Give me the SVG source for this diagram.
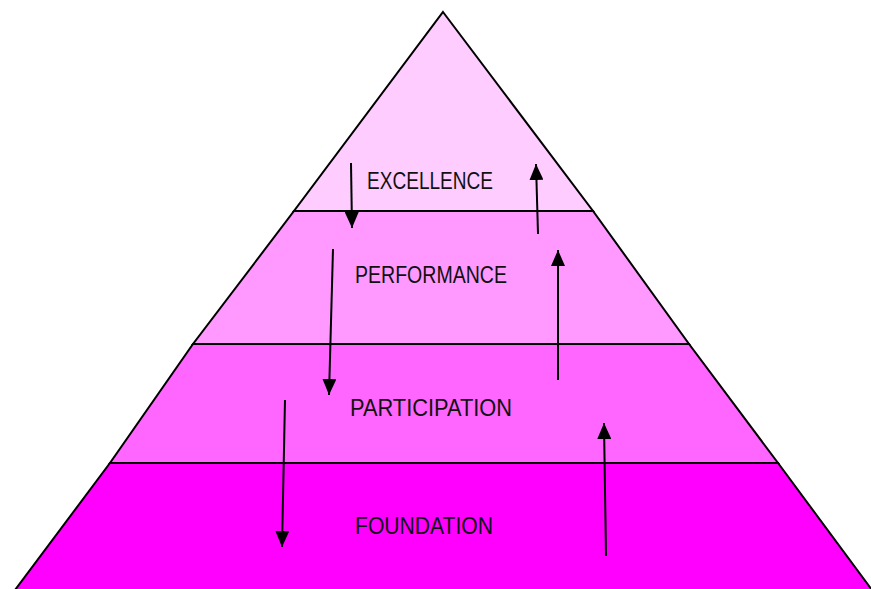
<svg xmlns="http://www.w3.org/2000/svg" width="871" height="589" viewBox="0 0 871 589">
<style>
.band{stroke:#000;stroke-width:2;stroke-linejoin:miter}
.lbl{font-family:"Liberation Sans",Arial,sans-serif;font-size:23px;fill:#111}
.arr{stroke:#000;stroke-width:2;fill:none;marker-end:url(#ah)}
</style>
<defs>
<marker id="ah" viewBox="0 0 16 14" refX="16" refY="7" markerWidth="16" markerHeight="14" markerUnits="userSpaceOnUse" orient="auto">
<path d="M0,0 L16,7 L0,14 Z" fill="#000"/>
</marker>
</defs>
<rect width="871" height="589" fill="#fff"/>
<g id="foundation">
<polygon class="band" fill="#FF00FF" points="110,463 778,463 872,590 15,590"/>
<text class="lbl" x="355" y="534" textLength="138" lengthAdjust="spacingAndGlyphs">FOUNDATION</text>
</g>
<g id="participation">
<polygon class="band" fill="#FF66FF" points="193,344 689,344 778,463 110,463"/>
<text class="lbl" x="350" y="416" textLength="162" lengthAdjust="spacingAndGlyphs">PARTICIPATION</text>
</g>
<g id="performance">
<polygon class="band" fill="#FF99FF" points="294,211 593,211 689,344 193,344"/>
<text class="lbl" x="355" y="283" textLength="152" lengthAdjust="spacingAndGlyphs">PERFORMANCE</text>
</g>
<g id="excellence">
<polygon class="band" fill="#FFCCFF" points="443,12 593,211 294,211"/>
<text class="lbl" x="367" y="189" textLength="126" lengthAdjust="spacingAndGlyphs">EXCELLENCE</text>
</g>
<g id="connectors">
<path class="arr" d="M351,163 L352,228"/>
<path class="arr" d="M538,234 L536,164"/>
<path class="arr" d="M333,249 L329,395"/>
<path class="arr" d="M558,380 L558,250"/>
<path class="arr" d="M285,400 L282,547"/>
<path class="arr" d="M606,556 L604,423"/>
</g>
</svg>
